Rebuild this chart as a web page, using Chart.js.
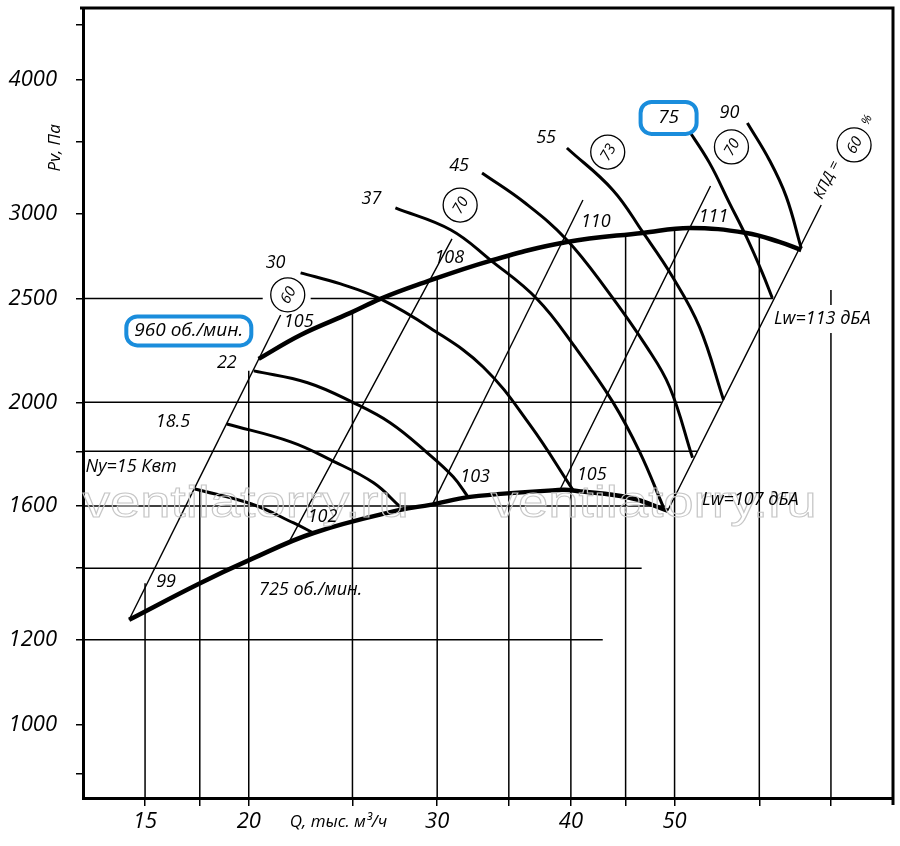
<!DOCTYPE html>
<html>
<head>
<meta charset="utf-8">
<script src="https://cdn.jsdelivr.net/npm/chart.js@4.4.1/dist/chart.umd.min.js"></script>
<style>
  html, body { margin: 0; padding: 0; background: #fff; }
  #wrap { width: 900px; height: 846px; }
</style>
</head>
<body>
<div id="wrap"><canvas id="fanChart" width="900" height="846"></canvas></div>
<script>
// axis ranges, Q in thousand m3/h, Pv in Pa (both log)
const qMin = 14, qMax = 80;
const pMin = 854, pMax = 4670;

const xTickValues = [16, 18, 20, 25, 30, 35, 40, 45, 50, 60, 70];
const xTickLabels = ['15', '', '20', '', '30', '', '40', '', '50', '', ''];
const yTickValues = [900, 1000, 1200, 1400, 1600, 1800, 2000, 2500, 3000, 3500, 4000, 4500];
const yTickLabels = ['', '1000', '1200', '', '1600', '', '2000', '2500', '3000', '', '4000', ''];

// boundary curves, 960 and 725 rpm
const q960 = [20.43, 22.36, 24.89, 26.55, 28.74, 33.62, 39.66, 46.68, 51.64, 58.36, 62.64, 65.67];
const p960 = [2196, 2312, 2424, 2498, 2574, 2711, 2823, 2879, 2910, 2879, 2824, 2775];
const q725 = [15.46, 17.97, 20.04, 22.99, 27.71, 29.56, 32.20, 39.32, 40.52, 45.40, 49.26];
const p725 = [1253, 1354, 1425, 1510, 1587, 1604, 1632, 1657, 1653, 1629, 1584];

// motor power curves, kW
const powerKw = ['15', '18.5', '22', '30', '37', '45', '55', '75', '90'];
const powerQ = [
  [17.81, 20.09, 22.03, 22.99],
  [19.08, 21.89, 23.85, 26.16, 27.71],
  [20.22, 22.70, 25.06, 27.13, 29.37, 31.05, 32.06],
  [22.36, 24.37, 26.55, 29.55, 33.12, 36.63, 40.17],
  [27.42, 30.90, 33.62, 37.19, 40.35, 43.77, 46.38, 48.84],
  [33.04, 36.25, 39.66, 43.21, 47.09, 49.47, 51.97],
  [39.66, 43.77, 46.68, 49.79, 52.76, 55.55],
  [51.31, 53.90, 56.27, 58.36, 60.39, 61.70],
  [58.48, 61.31, 63.59, 65.67],
];
const powerP = [
  [1660, 1608, 1543, 1510],
  [1909, 1837, 1767, 1682, 1597],
  [2140, 2086, 1998, 1913, 1794, 1704, 1632],
  [2642, 2580, 2498, 2347, 2158, 1905, 1657],
  [3038, 2897, 2717, 2498, 2253, 2002, 1798, 1594],
  [3275, 3070, 2836, 2547, 2253, 2067, 1775],
  [3456, 3158, 2885, 2619, 2351, 2011],
  [3615, 3347, 3070, 2854, 2642, 2503],
  [3647, 3368, 3111, 2785],
];

// sound power / efficiency lines (lower end -> upper end)
const lwQ = [[15.46, 21.42], [21.79, 30.97], [29.68, 41.05], [39.07, 54.02], [49.26, 68.55]];
const lwP = [[1253, 2413], [1478, 2842], [1604, 3090], [1657, 3185], [1584, 3057]];

// partial grid lines
const hGridP = [1200, 1400, 1600, 1800, 2000, 2500, 2500];
const hGridFrom = [14, 14, 14, 14, 14, 14, 22.85];
const hGridTo = [42.84, 46.58, 48.94, 52.53, 55.33, 20.61, 61.83];
const vGridQ = [16, 18, 20, 25, 30, 35, 40, 45, 50, 60, 70, 70];
const vGridFrom = [854, 854, 854, 854, 854, 854, 854, 854, 854, 854, 854, 2466];
const vGridTo = [1355, 1657, 2140, 2430, 2620, 2740, 2817, 2867, 2903, 2858, 2322, 2547];

// text on the chart, placed in data units
const notes = [
  { t: '30', q: 21.19, p: 2699 },
  { t: '37', q: 26.04, p: 3097 },
  { t: '45', q: 31.45, p: 3325 },
  { t: '55', q: 37.92, p: 3531 },
  { t: '90', q: 56.27, p: 3727 },
  { t: '22', q: 19.08, p: 2177 },
  { t: '18.5', q: 16.99, p: 1917 },
  { t: 'Ny=15 Квт', q: 15.53, p: 1741 },
  { t: '105', q: 22.27, p: 2377 },
  { t: '108', q: 30.79, p: 2728 },
  { t: '110', q: 42.20, p: 2948 },
  { t: '111', q: 54.37, p: 2980 },
  { t: '99', q: 16.74, p: 1359 },
  { t: '102', q: 23.44, p: 1563 },
  { t: '103', q: 32.55, p: 1704 },
  { t: '105', q: 41.84, p: 1711 },
  { t: 'Lw=107 дБА', q: 58.86, p: 1622 },
  { t: 'Lw=113 дБА', q: 68.70, p: 2393 },
  { t: '725 об./мин.', q: 22.85, p: 1336 },
];
const circled = [
  { t: '60', q: 21.75, p: 2520 },
  { t: '70', q: 31.52, p: 3057 },
  { t: '73', q: 43.30, p: 3426 },
  { t: '70', q: 56.51, p: 3464 },
  { t: '60', q: 73.57, p: 3479 },
];
const boxed = [
  { t: '960 об./мин.', q: 17.58, p: 2332, w: 125, h: 29 },
  { t: '75', q: 49.36, p: 3687, w: 56, h: 32 },
];
const watermarks = [
  { t: 'ventilatorry.ru', q: 19.87, p: 1563 },
  { t: 'ventilatorry.ru', q: 47.8, p: 1563 },
];

const ITALIC = '"Open Sans", "DejaVu Sans", sans-serif';

function series(qs, ps) {
  return qs.map((q, i) => ({ x: q, y: ps[i] }));
}

function lineSet(data, width, order) {
  return {
    data,
    borderColor: '#000',
    borderWidth: width,
    pointRadius: 0,
    fill: false,
    tension: 0.4,
    order,
  };
}

const datasets = [];
datasets.push(lineSet(series(q960, p960), 4.5, 0));
datasets.push(lineSet(series(q725, p725), 4.5, 0));
powerQ.forEach((qs, i) => datasets.push(lineSet(series(qs, powerP[i]), 3, 1)));
lwQ.forEach((qs, i) => datasets.push(lineSet(series(qs, lwP[i]), 1.4, 2)));
hGridP.forEach((p, i) => datasets.push(lineSet([{ x: hGridFrom[i], y: p }, { x: hGridTo[i], y: p }], 1.5, 3)));
vGridQ.forEach((q, i) => datasets.push(lineSet([{ x: q, y: vGridFrom[i] }, { x: q, y: vGridTo[i] }], 1.5, 3)));

const annotatePlugin = {
  id: 'annotate',
  afterDatasetsDraw(chart) {
    const { ctx, chartArea: a, scales: { x, y } } = chart;
    const px = (q) => x.getPixelForValue(q);
    const py = (p) => y.getPixelForValue(p);
    ctx.save();

    // top and right frame
    ctx.strokeStyle = '#000';
    ctx.lineWidth = 3;
    ctx.beginPath();
    ctx.moveTo(a.left - 3, a.top);
    ctx.lineTo(a.right, a.top);
    ctx.lineTo(a.right, a.bottom + 7);
    ctx.stroke();

    // watermark
    ctx.font = '44px "Liberation Sans", sans-serif';
    ctx.textAlign = 'center';
    ctx.textBaseline = 'alphabetic';
    ctx.strokeStyle = '#c6c6c6';
    ctx.lineWidth = 1;
    watermarks.forEach((w) => {
      const tw = ctx.measureText(w.t).width;
      ctx.save();
      ctx.translate(px(w.q), py(w.p));
      ctx.scale(326 / tw, 1);
      ctx.strokeText(w.t, 0, 0);
      ctx.restore();
    });

    ctx.fillStyle = '#000';
    ctx.textBaseline = 'middle';

    // plain labels
    ctx.font = 'italic 18px ' + ITALIC;
    notes.forEach((n) => ctx.fillText(n.t, px(n.q), py(n.p)));

    // circled efficiency values
    circled.forEach((c) => {
      const cx = px(c.q), cy = py(c.p);
      ctx.beginPath();
      ctx.arc(cx, cy, 17, 0, Math.PI * 2);
      ctx.fillStyle = '#fff';
      ctx.fill();
      ctx.strokeStyle = '#000';
      ctx.lineWidth = 1.3;
      ctx.stroke();
      ctx.save();
      ctx.translate(cx, cy);
      ctx.rotate(-Math.PI / 3);
      ctx.fillStyle = '#000';
      ctx.font = 'italic 15px ' + ITALIC;
      ctx.fillText(c.t, 0, 1);
      ctx.restore();
    });

    // boxed speed labels
    boxed.forEach((b) => {
      const cx = px(b.q), cy = py(b.p);
      ctx.beginPath();
      ctx.roundRect(cx - b.w / 2, cy - b.h / 2, b.w, b.h, 11);
      ctx.fillStyle = '#fff';
      ctx.fill();
      ctx.strokeStyle = '#1a8ddc';
      ctx.lineWidth = 4;
      ctx.stroke();
      ctx.fillStyle = '#000';
      ctx.font = 'italic 19px ' + ITALIC;
      ctx.fillText(b.t, cx, cy);
    });

    // efficiency caption along the right line
    ctx.save();
    ctx.translate(px(69.43), py(3226));
    ctx.rotate(-Math.atan(2));
    ctx.font = 'italic 15px ' + ITALIC;
    ctx.fillText('КПД =', 0, 0);
    ctx.restore();
    ctx.save();
    ctx.translate(px(75.66), py(3671));
    ctx.rotate(-Math.atan(2));
    ctx.font = 'italic 12px ' + ITALIC;
    ctx.fillText('%', 0, 0);
    ctx.restore();

    // axis titles
    ctx.font = 'italic 17px ' + ITALIC;
    ctx.fillText('Q, тыс. м³/ч', px(24.26), a.bottom + 24);
    ctx.save();
    ctx.translate(a.left - 28, py(3457));
    ctx.rotate(-Math.PI / 2);
    ctx.fillText('Pv, Па', 0, 0);
    ctx.restore();

    ctx.restore();
  },
};

new Chart(document.getElementById('fanChart'), {
  type: 'line',
  data: { datasets },
  options: {
    responsive: false,
    devicePixelRatio: 1,
    animation: false,
    events: [],
    layout: { padding: { top: 8, right: 7, left: 0, bottom: 0 } },
    plugins: { legend: { display: false }, tooltip: { enabled: false } },
    scales: {
      x: {
        type: 'logarithmic',
        min: qMin,
        max: qMax,
        afterBuildTicks: (s) => { s.ticks = xTickValues.map((v) => ({ value: v })); },
        afterFit: (s) => { s.height = 48; s.paddingLeft = 0; s.paddingRight = 0; },
        ticks: {
          autoSkip: false,
          maxRotation: 0,
          padding: 3,
          color: '#000',
          font: { family: ITALIC, size: 22, style: 'italic' },
          callback: (v) => xTickLabels[xTickValues.indexOf(v)] ?? '',
        },
        grid: { drawOnChartArea: false, drawTicks: true, tickLength: 8, color: '#000', lineWidth: 1.5 },
        border: { color: '#000', width: 3 },
      },
      y: {
        type: 'logarithmic',
        min: pMin,
        max: pMax,
        afterBuildTicks: (s) => { s.ticks = yTickValues.map((v) => ({ value: v })); },
        afterFit: (s) => { s.width = 83; s.paddingTop = 0; s.paddingBottom = 0; },
        ticks: {
          autoSkip: false,
          padding: 19,
          color: '#000',
          font: { family: ITALIC, size: 22, style: 'italic' },
          callback: (v) => yTickLabels[yTickValues.indexOf(v)] ?? '',
        },
        grid: { drawOnChartArea: false, drawTicks: true, tickLength: 7, color: '#000', lineWidth: 1.5 },
        border: { color: '#000', width: 3 },
      },
    },
  },
  plugins: [annotatePlugin],
});
</script>
</body>
</html>
